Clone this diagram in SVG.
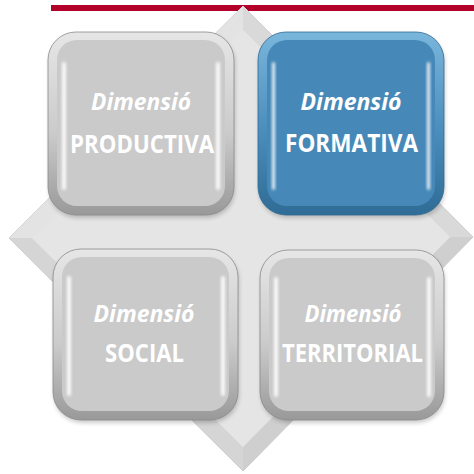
<svg xmlns="http://www.w3.org/2000/svg" width="474" height="474" viewBox="0 0 474 474">
<defs>
<linearGradient id="rimGray" x1="0" y1="0" x2="0" y2="1">
<stop offset="0" stop-color="#e6e6e6"/><stop offset="0.55" stop-color="#cbcbcb"/><stop offset="1" stop-color="#999999"/>
</linearGradient>
<linearGradient id="rimBlue" x1="0" y1="0" x2="0" y2="1">
<stop offset="0" stop-color="#7ab6dc"/><stop offset="0.55" stop-color="#4a8cbb"/><stop offset="1" stop-color="#2f6c96"/>
</linearGradient>
<linearGradient id="dia" x1="0" y1="0" x2="1" y2="1">
<stop offset="0" stop-color="#e8e8e8"/><stop offset="1" stop-color="#d6d6d6"/>
</linearGradient>
<filter id="blur" x="-50%" y="-50%" width="200%" height="200%"><feGaussianBlur stdDeviation="1.6"/></filter>
<filter id="shadow" x="-10%" y="-10%" width="120%" height="125%"><feGaussianBlur stdDeviation="2"/></filter>
</defs>
<style>
.t{font-family:"Open Sans","Liberation Sans",sans-serif;font-weight:bold;fill:#ffffff;text-anchor:middle}
.i{font-style:italic;font-size:24px}
.c{font-size:25px}
.face{fill:#cacaca}
.faceB{fill:#4689b9}
.rim{stroke:#8a8a8a;stroke-width:0.8}
.rimB{stroke:#2f6a93;stroke-width:0.8}
.hl{fill:#ffffff;opacity:0.9;filter:url(#blur)}
.sh{fill:#000000;opacity:0.2;filter:url(#shadow)}
</style>
<rect width="474" height="474" fill="#ffffff"/>
<rect x="51" y="5" width="423" height="6" fill="#b3002a"/>
<g id="diamond">
<polygon points="243,6 473,237 243,471 9,238" fill="url(#dia)" stroke="#c8c8c8" stroke-width="1"/>
<polygon points="243,6 473,237 450,237 243,30" fill="#d9d9d9"/>
<polygon points="473,237 243,471 243,447 450,237" fill="#cfcfcf"/>
<polygon points="243,471 9,238 32,238 243,447" fill="#d5d5d5"/>
<polygon points="9,238 243,6 243,30 32,238" fill="#e3e3e3"/>
<polygon points="243,30 450,237 243,447 32,238" fill="#e5e5e5"/>
</g>
<g id="n1">
<rect class="sh" x="49" y="35" width="186" height="183" rx="28"/>
<rect class="rim" x="48" y="32" width="186" height="183" rx="28" fill="url(#rimGray)"/>
<rect class="face" x="57" y="40" width="168" height="166" rx="20"/>
<rect class="hl" x="62" y="62" width="4" height="128" rx="2"/>
<rect class="hl" x="216" y="62" width="4" height="128" rx="2" opacity="0.7"/>
<text class="t i" x="141" y="110" textLength="100" lengthAdjust="spacingAndGlyphs">Dimensió</text>
<text class="t c" x="142" y="153" textLength="144" lengthAdjust="spacingAndGlyphs">PRODUCTIVA</text>
</g>
<g id="n2">
<rect class="sh" x="259" y="35" width="186" height="183" rx="28"/>
<rect class="rimB" x="258" y="32" width="186" height="183" rx="28" fill="url(#rimBlue)"/>
<rect class="faceB" x="267" y="40" width="168" height="166" rx="20"/>
<rect class="hl" x="272" y="62" width="3" height="128" rx="2" opacity="0.45"/>
<rect class="hl" x="427" y="62" width="3" height="128" rx="2" opacity="0.35"/>
<text class="t i" x="351" y="110" textLength="101" lengthAdjust="spacingAndGlyphs">Dimensió</text>
<text class="t c" x="351.5" y="152" textLength="133" lengthAdjust="spacingAndGlyphs">FORMATIVA</text>
</g>
<g id="n3">
<rect class="sh" x="54" y="252" width="185" height="171" rx="28"/>
<rect class="rim" x="53" y="249" width="185" height="171" rx="28" fill="url(#rimGray)"/>
<rect class="face" x="62" y="257" width="167" height="154" rx="20"/>
<rect class="hl" x="67" y="276" width="4" height="120" rx="2"/>
<rect class="hl" x="221" y="276" width="4" height="120" rx="2" opacity="0.7"/>
<text class="t i" x="144" y="322" textLength="101" lengthAdjust="spacingAndGlyphs">Dimensió</text>
<text class="t c" x="144.5" y="362" textLength="79" lengthAdjust="spacingAndGlyphs">SOCIAL</text>
</g>
<g id="n4">
<rect class="sh" x="261" y="253" width="184" height="170" rx="28"/>
<rect class="rim" x="260" y="250" width="184" height="170" rx="28" fill="url(#rimGray)"/>
<rect class="face" x="269" y="258" width="166" height="153" rx="20"/>
<rect class="hl" x="274" y="277" width="4" height="120" rx="2"/>
<rect class="hl" x="427" y="277" width="4" height="120" rx="2" opacity="0.7"/>
<text class="t i" x="353" y="322" textLength="97" lengthAdjust="spacingAndGlyphs">Dimensió</text>
<text class="t c" x="352.5" y="362" textLength="141" lengthAdjust="spacingAndGlyphs">TERRITORIAL</text>
</g>
<g id="connectors"/>
</svg>
